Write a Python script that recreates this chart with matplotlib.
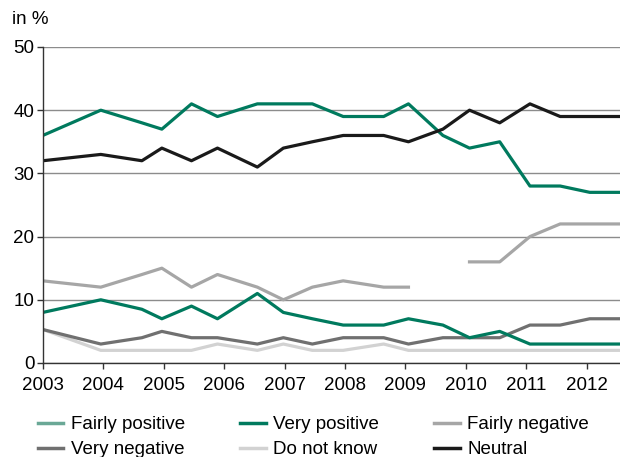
import matplotlib
matplotlib.use("Agg")
from matplotlib import pyplot as plt
from matplotlib.lines import Line2D
import numpy as np

plt.rcParams['font.family'] = ['Liberation Sans', 'DejaVu Sans']

# survey dates (fractional years)
dates = [2003.0, 2003.96, 2004.64, 2004.97, 2005.46, 2005.89, 2006.55, 2006.98,
         2007.46, 2007.97, 2008.64, 2009.05, 2009.62, 2010.06, 2010.56, 2011.06,
         2011.56, 2012.05, 2012.57]

fairly_positive = [36, 40, 38, 37, 41, 39, 41, 41, 41, 39, 39, 41, 36, 34, 35, 28, 28, 27, 27]
very_positive = [8, 10, 8.5, 7, 9, 7, 11, 8, 7, 6, 6, 7, 6, 4, 5, 3, 3, 3, 3]
fairly_negative = [13, 12, 14, 15, 12, 14, 12, 10, 12, 13, 12, 12, np.nan, 16, 16, 20, 22, 22, 22]
very_negative = [5.3, 3, 4, 5, 4, 4, 3, 4, 3, 4, 4, 3, 4, 4, 4, 6, 6, 7, 7]
do_not_know = [5.3, 2, 2, 2, 2, 3, 2, 3, 2, 2, 3, 2, 2, 2, 2, 2, 2, 2, 2]
neutral = [32, 33, 32, 34, 32, 34, 31, 34, 35, 36, 36, 35, 37, 40, 38, 41, 39, 39, 39]

years = list(range(2003, 2013))

teal = '#007a5e'
teal_light = '#6aa896'
fs = 13.5

fig = plt.figure(figsize=(6.2, 4.57), dpi=100)
ax = fig.add_axes([0.069, 0.2057, 0.931, 0.6915])

lw = 2.3
ax.plot(dates, do_not_know, color='#d2d2d2', lw=lw)
ax.plot(dates, very_negative, color='#707070', lw=lw)
ax.plot(dates, fairly_negative, color='#a6a6a6', lw=lw)
ax.plot(dates, very_positive, color=teal, lw=lw)
ax.plot(dates, fairly_positive, color=teal, lw=lw)
ax.plot(dates, neutral, color='#1a1a1a', lw=lw)

ax.set_xlim(2003, 2012.55)
ax.set_ylim(0, 50)
ax.set_yticks([0, 10, 20, 30, 40, 50])
ax.set_xticks(years)
ax.set_xticklabels([str(y) for y in years])
ax.yaxis.grid(True, color='#8c8c8c', lw=1)
ax.set_axisbelow(True)
for s in ['top', 'right']:
    ax.spines[s].set_visible(False)
for s in ['left', 'bottom']:
    ax.spines[s].set_color('#333333')
    ax.spines[s].set_linewidth(1)
ax.tick_params(axis='both', labelsize=fs, color='#333333', length=4, width=1)
ax.tick_params(axis='x', pad=6)
ax.tick_params(axis='y', pad=2)

fig.text(12 / 620, 1 - 20 / 457, 'in %', fontsize=fs, va='center', ha='left')

handles = [
    Line2D([], [], color=teal_light, lw=2.5),
    Line2D([], [], color='#707070', lw=2.5),
    Line2D([], [], color=teal, lw=2.5),
    Line2D([], [], color='#d2d2d2', lw=2.5),
    Line2D([], [], color='#a6a6a6', lw=2.5),
    Line2D([], [], color='#1a1a1a', lw=2.5),
]
labels = ['Fairly positive', 'Very negative', 'Very positive', 'Do not know',
          'Fairly negative', 'Neutral']
fig.legend(handles, labels, ncol=3, loc='upper left',
           bbox_to_anchor=(38 / 620, 1 - 416 / 457), frameon=False,
           fontsize=fs, handlelength=1.35, handletextpad=0.4,
           columnspacing=2.95, labelspacing=0.42, borderaxespad=0, borderpad=0)

fig.savefig('out.png', dpi=100)
